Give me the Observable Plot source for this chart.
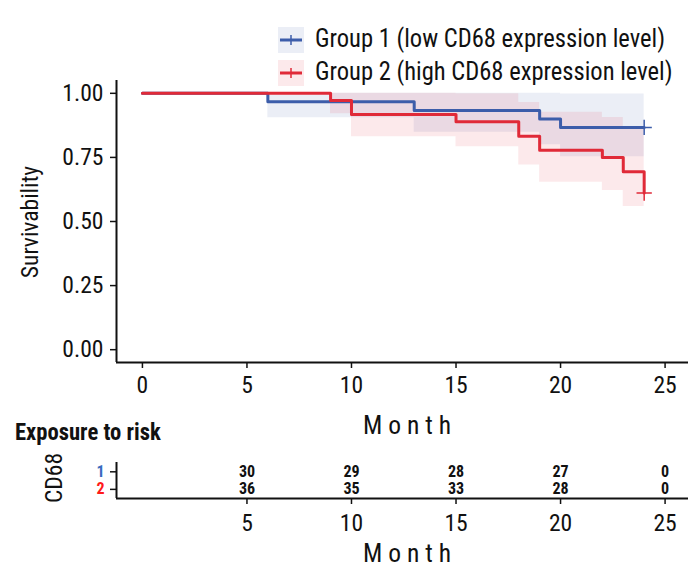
<!DOCTYPE html>
<html>
<head>
<meta charset="utf-8">
<script src="https://cdn.jsdelivr.net/npm/d3@7"></script>
<script src="https://cdn.jsdelivr.net/npm/@observablehq/plot@0.6"></script>
<style>
  body { margin: 0; background: #fff; }
  #wrap { position: relative; width: 698px; height: 575px; overflow: hidden; color: #111; }
  .abs { position: absolute; white-space: nowrap; line-height: 1; }
</style>
</head>
<body>
<div id="wrap"></div>
<script>
// ---- data ----
const groupNames = ["Group 1 (low CD68 expression level)", "Group 2 (high CD68 expression level)"];
const groupColors = ["#3C5DAA", "#E02A38"];
const labelColors = ["#3A6CC0", "#FF1A1A"];

const g1Time  = [0, 6, 13, 19, 20, 24];
const g1Surv  = [1, 0.967, 0.933, 0.900, 0.867, 0.867];
const g1Lower = [1, 0.905, 0.848, 0.799, 0.753, 0.753];
const g1Upper = [1, 1, 1, 1, 0.997, 0.997];

const g2Time  = [0, 9, 10, 15, 18, 19, 22, 23, 24];
const g2Surv  = [1, 0.972, 0.917, 0.889, 0.833, 0.778, 0.750, 0.694, 0.611];
const g2Lower = [1, 0.920, 0.831, 0.792, 0.720, 0.653, 0.621, 0.559, 0.471];
const g2Upper = [1, 1, 1, 0.998, 0.964, 0.926, 0.906, 0.863, 0.793];

const censorTime = [24, 24];
const censorSurv = [0.867, 0.611];

const xTicksMain = [0, 5, 10, 15, 20, 25];
const yTicksMain = [0, 0.25, 0.5, 0.75, 1];
const riskTimes = [5, 10, 15, 20, 25];
const risk1 = [30, 29, 28, 27, 0];
const risk2 = [36, 35, 33, 28, 0];

// ---- pick the narrowest installed font close to the reference's condensed face ----
const ctx = document.createElement("canvas").getContext("2d");
function w(font, s) { ctx.font = font; return ctx.measureText(s).width; }
const probe = "Group 1 (low CD68 expression level)";
const candidates = [
  ["'Liberation Sans Narrow'", "normal"],
  ["'Noto Sans ExtraCondensed'", "normal"],
  ["'Noto Sans'", "extra-condensed"],
  ["'Noto Sans Condensed'", "normal"],
  ["'Noto Sans'", "condensed"],
  ["'Open Sans'", "condensed"],
  ["'Roboto'", "condensed"],
  ["'DejaVu Sans Condensed'", "normal"],
  ["'DejaVu Sans'", "condensed"]
];
let best = ["'DejaVu Sans'", "condensed"], bestW = Infinity;
for (const [fam, st] of candidates) {
  let ok;
  if (st === "normal") {
    ok = w(`40px ${fam}, monospace`, probe) !== w("40px monospace", probe) &&
         w(`40px ${fam}, serif`, probe) !== w("40px serif", probe);
  } else {
    const base = w(`40px ${fam}, monospace`, probe);
    ok = base !== w("40px monospace", probe) && w(`${st} 40px ${fam}, monospace`, probe) < base - 1;
  }
  if (!ok) continue;
  const ww = w(`${st === "normal" ? "" : st + " "}25px ${fam}`, probe);
  if (Math.abs(ww - 350) < Math.abs(bestW - 350)) { best = [fam, st]; bestW = ww; }
}
const FONT = best[0] + ", 'DejaVu Sans Condensed', sans-serif";
const STRETCH = best[1];
const scaleFix = Math.min(1, Math.max(0.7, 350 / bestW)) || 1;

// ---- build tables ----
function curve(times, surv, lo, hi, g) {
  return times.map((t, i) => ({t, s: surv[i], lo: lo[i], hi: hi[i], g}));
}
const km = [...curve(g1Time, g1Surv, g1Lower, g1Upper, 0), ...curve(g2Time, g2Surv, g2Lower, g2Upper, 1)];
const censors = censorTime.map((t, i) => ({t, s: censorSurv[i], g: i}));
const risk = [
  ...riskTimes.map((t, i) => ({t, row: 1, n: risk1[i]})),
  ...riskTimes.map((t, i) => ({t, row: 2, n: risk2[i]}))
];

const xDomain = [-1.24, 26.12];
const yDomain = [-0.05, 1.05];
const riskDomain = [0.47, 2.52];
const wrap = document.getElementById("wrap");
wrap.style.fontFamily = FONT; wrap.style.fontStretch = STRETCH;
const svgStyle = {fontSize: "24px", color: "#111", background: "transparent", overflow: "visible",
  fontFamily: FONT, fontStretch: STRETCH};

// narrow the tick labels horizontally to the reference's condensed look
function squeeze(svg) {
  svg.querySelectorAll("g[aria-label$='tick label'] text").forEach(t => {
    const tr = t.getAttribute("transform") || "";
    t.setAttribute("transform", tr + ` scale(${scaleFix},1)`);
  });
}

// ---- main KM plot ----
const main = Plot.plot({
  width: 698, height: 440,
  marginLeft: 116, marginRight: 10, marginTop: 80, marginBottom: 78,
  x: {domain: xDomain},
  y: {domain: yDomain},
  style: svgStyle,
  marks: [
    ...[0, 1].map(g => Plot.areaY(km.filter(d => d.g === g), {
      x: "t", y1: "lo", y2: "hi", curve: "step-after",
      fill: groupColors[g], fillOpacity: 0.1
    })),
    ...[0, 1].map(g => Plot.line(km.filter(d => d.g === g), {
      x: "t", y: "s", curve: "step-after",
      stroke: groupColors[g], strokeWidth: 3
    })),
    ...[0, 1].map(g => Plot.dot(censors.filter(d => d.g === g), {
      x: "t", y: "s", symbol: "plus", r: 5, fill: groupColors[g], stroke: groupColors[g], strokeWidth: 1.5
    })),
    Plot.axisX({ticks: xTicksMain, tickSize: 6, tickPadding: 7, tickFormat: d => String(d), label: null, strokeWidth: 1.5}),
    Plot.axisY({ticks: yTicksMain, tickSize: 6, tickPadding: 7, tickFormat: d3.format(".2f"), label: null, strokeWidth: 1.5}),
    Plot.ruleX([xDomain[0]], {stroke: "#111", strokeWidth: 2}),
    Plot.ruleY([yDomain[0]], {stroke: "#111", strokeWidth: 2})
  ]
});
squeeze(main);
main.style.position = "absolute"; main.style.left = "0px"; main.style.top = "0px";
wrap.appendChild(main);

// ---- risk table ----
const riskPlot = Plot.plot({
  width: 698, height: 135,
  marginLeft: 116, marginRight: 10, marginTop: 22, marginBottom: 77,
  x: {domain: xDomain},
  y: {domain: riskDomain, reverse: true},
  style: svgStyle,
  marks: [
    Plot.text(risk, {x: "t", y: "row", text: d => String(d.n), fontWeight: "bold", fontSize: 16, fill: "#111"}),
    Plot.text([1, 2], {y: d => d, text: d => String(d), frameAnchor: "left", dx: -16, textAnchor: "middle",
      fill: (d) => labelColors[d - 1], fontWeight: "bold", fontSize: 16}),
    Plot.axisX({ticks: riskTimes, tickSize: 6, tickPadding: 9, tickFormat: d => String(d), label: null, strokeWidth: 1.5}),
    Plot.axisY({ticks: [1, 2], tickSize: 6, tickFormat: () => "", label: null, strokeWidth: 1.5}),
    Plot.ruleX([xDomain[0]], {stroke: "#111", strokeWidth: 2}),
    Plot.ruleY([riskDomain[1]], {stroke: "#111", strokeWidth: 2})
  ]
});
squeeze(riskPlot);
riskPlot.style.position = "absolute"; riskPlot.style.left = "0px"; riskPlot.style.top = "440px";
wrap.appendChild(riskPlot);

// ---- texts ----
function addText(txt, css) {
  const d = document.createElement("div");
  d.className = "abs"; d.textContent = txt;
  Object.assign(d.style, css);
  wrap.appendChild(d);
  return d;
}
const S = scaleFix;
addText("Survivability", {left: "30px", top: "222px", fontSize: "24px", transform: `translate(-50%,-50%) rotate(-90deg) scale(${S},1)`});
addText("Month", {left: "407px", top: "425px", fontSize: "26px", letterSpacing: "6px", paddingLeft: "6px", transform: `translate(-50%,-50%) scale(${S},1)`});
addText("Exposure to risk", {left: "15px", top: "432px", fontSize: "23px", fontWeight: "bold", transformOrigin: "0 50%", transform: `translate(0,-50%) scale(${S},1)`});
addText("CD68", {left: "54px", top: "478px", fontSize: "24px", transform: `translate(-50%,-50%) rotate(-90deg) scale(${S},1)`});
addText("Month", {left: "407px", top: "553px", fontSize: "26px", letterSpacing: "6px", paddingLeft: "6px", transform: `translate(-50%,-50%) scale(${S},1)`});

// ---- legend ----
groupNames.forEach((name, i) => {
  const cy = [40, 73][i];
  const key = document.createElementNS("http://www.w3.org/2000/svg", "svg");
  key.setAttribute("width", 26); key.setAttribute("height", 26);
  key.style.position = "absolute"; key.style.left = "278px"; key.style.top = (cy - 13) + "px";
  key.innerHTML = `<rect x="0" y="0" width="26" height="26" fill="${groupColors[i]}" fill-opacity="0.1"></rect>
    <line x1="2" x2="24" y1="13" y2="13" stroke="${groupColors[i]}" stroke-width="3"></line>
    <line x1="13" x2="13" y1="8" y2="18" stroke="${groupColors[i]}" stroke-width="1.5"></line>`;
  wrap.appendChild(key);
  addText(name, {left: "315px", top: cy + "px", fontSize: "25px", transformOrigin: "0 50%", transform: `translate(0,-55%) scale(${S},1)`});
});
</script>
</body>
</html>
